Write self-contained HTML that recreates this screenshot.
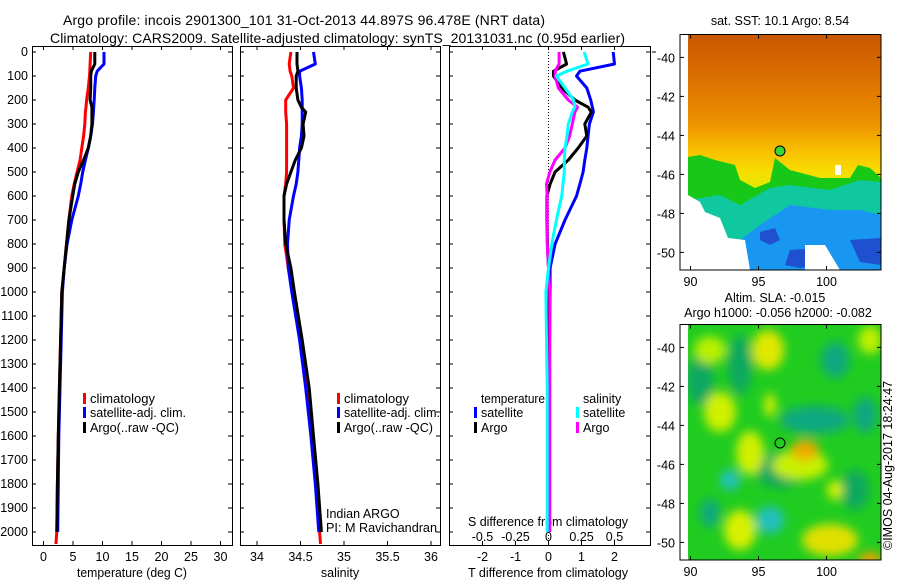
<!DOCTYPE html>
<html><head><meta charset="utf-8"><style>
body{margin:0;background:#fff}
svg{display:block;font-family:"Liberation Sans",sans-serif}
text{font-size:12.5px;fill:#000}
</style></head><body>
<svg id="chart" width="900" height="580" viewBox="0 0 900 580" xmlns="http://www.w3.org/2000/svg">
<defs>
<linearGradient id="sstg" x1="0" y1="0" x2="0" y2="1">
<stop offset="0" stop-color="#c85800"/><stop offset="0.25" stop-color="#de7400"/><stop offset="0.45" stop-color="#ee9400"/><stop offset="0.58" stop-color="#f8c000"/><stop offset="0.68" stop-color="#f8dc00"/><stop offset="0.8" stop-color="#d8f000"/><stop offset="1" stop-color="#d8f000"/>
</linearGradient>
<filter id="blur"><feGaussianBlur stdDeviation="5"/></filter>
<clipPath id="clipTop"><rect x="688" y="35" width="193" height="235"/></clipPath>
<clipPath id="clipBot"><rect x="688" y="325" width="193" height="235"/></clipPath>
</defs>
<text x="63" y="25" textLength="482" style="font-size:14px">Argo profile: incois 2901300_101 31-Oct-2013 44.897S 96.478E (NRT data)</text>
<text x="50" y="43" textLength="575" style="font-size:14px">Climatology: CARS2009. Satellite-adjusted climatology: synTS_20131031.nc (0.95d earlier)</text>
<g id="panels"></g>
<!-- top map -->
<g>
<text x="780" y="25" text-anchor="middle">sat. SST: 10.1  Argo: 8.54</text>
<g clip-path="url(#clipTop)">
<rect x="688" y="35" width="193" height="200" fill="url(#sstg)"/>
<polygon fill="#18c818" points="688,157 700,155 715,160 735,165 740,180 755,188 770,182 775,158 790,170 820,178 850,178 858,165 870,168 881,178 881,270 688,270"/>
<polygon fill="#10c8a0" points="688,200 720,195 740,205 770,188 790,185 830,190 860,180 881,182 881,270 688,270"/>
<polygon fill="#1896f0" points="740,240 760,225 790,205 830,210 860,210 881,215 881,270 740,270"/>
<polygon fill="#1e50d0" points="760,232 775,228 780,240 770,245 760,240"/>
<polygon fill="#1e50d0" points="790,250 820,248 830,262 800,268 785,265"/>
<polygon fill="#1e50d0" points="850,240 881,238 881,265 860,262"/>
<polygon fill="#fff" points="688,195 700,202 705,212 720,218 728,238 745,240 750,270 688,270"/>
<polygon fill="#fff" points="805,270 805,245 825,245 840,270"/>
<rect x="835" y="165" width="6" height="10" fill="#fff"/>
</g>
<rect x="680" y="34.5" width="201" height="235.5" fill="none" stroke="#000"/>
<circle cx="780" cy="151" r="5" fill="#38d838" stroke="#000"/>
</g>
<!-- bottom map -->
<g>
<text x="775" y="302" text-anchor="middle">Altim. SLA: -0.015</text>
<text x="778" y="317" text-anchor="middle">Argo h1000: -0.056 h2000: -0.082</text>
<g clip-path="url(#clipBot)">
<rect x="688" y="325" width="193" height="235" fill="#20cc20"/>
<g filter="url(#blur)">
<ellipse cx="700" cy="380" rx="14" ry="25" fill="#10a860"/>
<ellipse cx="740" cy="365" rx="12" ry="30" fill="#10a860"/>
<ellipse cx="835" cy="360" rx="14" ry="18" fill="#10a880"/>
<ellipse cx="815" cy="420" rx="35" ry="14" fill="#10a880"/>
<ellipse cx="865" cy="415" rx="12" ry="18" fill="#10a880"/>
<ellipse cx="780" cy="470" rx="25" ry="18" fill="#10a860"/>
<ellipse cx="730" cy="480" rx="10" ry="10" fill="#20c0c0"/>
<ellipse cx="770" cy="520" rx="14" ry="14" fill="#20c0c0"/>
<ellipse cx="710" cy="513" rx="10" ry="14" fill="#10a880"/>
<ellipse cx="855" cy="490" rx="14" ry="20" fill="#10a860"/>
<ellipse cx="768" cy="350" rx="16" ry="20" fill="#e0e800"/>
<ellipse cx="720" cy="412" rx="16" ry="20" fill="#d0f000"/>
<ellipse cx="750" cy="453" rx="14" ry="22" fill="#d0f000"/>
<ellipse cx="710" cy="350" rx="16" ry="14" fill="#b8f000"/>
<ellipse cx="800" cy="465" rx="28" ry="15" fill="#c8f000"/>
<ellipse cx="805" cy="450" rx="14" ry="10" fill="#f0a800"/>
<ellipse cx="740" cy="530" rx="16" ry="20" fill="#d8f000"/>
<ellipse cx="830" cy="540" rx="28" ry="16" fill="#e0e000"/>
<ellipse cx="870" cy="560" rx="12" ry="8" fill="#f0a000"/>
<ellipse cx="870" cy="340" rx="12" ry="14" fill="#c0f000"/>
<ellipse cx="770" cy="405" rx="6" ry="12" fill="#d0f000"/>
<ellipse cx="835" cy="490" rx="8" ry="10" fill="#d0f000"/>
</g>
</g>
<rect x="680" y="324.5" width="201" height="235.5" fill="none" stroke="#000"/>
<circle cx="780" cy="443" r="5" fill="none" stroke="#000"/>
<text transform="translate(892,550) rotate(-90)">©IMOS 04-Aug-2017 18:24:47</text>
</g>
<g id="mapaxes"></g>
</svg>
<script>
const depths=[0,50,80,100,150,200,230,250,300,350,400,450,500,550,600,700,800,900,1000,1200,1400,1600,1800,2000];
const climDepths=[0,50,80,100,150,200,230,250,300,350,400,450,500,550,600,700,800,900,1000,1200,1400,1600,1800,2000,2050];
const tempArgo=[8.7,8.7,8.1,8.0,8.0,7.9,8.2,8.2,8.2,8.0,7.6,6.8,5.9,5.3,4.95,4.3,3.9,3.5,3.1,2.9,2.7,2.5,2.35,2.25];
const tempClim=[8.0,7.9,7.85,7.8,7.6,7.3,7.2,7.1,7.0,6.8,6.5,6.2,5.7,5.2,4.8,4.3,3.9,3.5,3.1,2.9,2.7,2.5,2.35,2.25,2.1];
const tempSat=[10.25,10.25,9.1,8.85,8.7,8.6,8.5,8.45,8.3,8.0,7.6,7.1,6.65,6.3,5.9,4.8,4.0,3.5,3.2,3.0,2.8,2.6,2.5,2.4];
const salArgo=[34.46,34.46,34.47,34.45,34.45,34.47,34.51,34.56,34.53,34.54,34.51,34.44,34.39,34.34,34.31,34.31,34.33,34.39,34.43,34.52,34.60,34.65,34.70,34.74];
const salClim=[34.39,34.37,34.38,34.40,34.42,34.33,34.33,34.33,34.34,34.34,34.34,34.34,34.34,34.33,34.31,34.31,34.32,34.36,34.41,34.50,34.575,34.63,34.68,34.72,34.73];
const salSat=[34.65,34.67,34.49,34.49,34.51,34.52,34.52,34.52,34.52,34.51,34.49,34.48,34.47,34.45,34.42,34.37,34.35,34.36,34.40,34.49,34.56,34.62,34.67,34.71];
const tDiffSat=[1.96,2.0,0.95,0.85,1.16,1.28,1.33,1.36,1.24,1.2,1.16,1.1,1.05,0.95,0.85,0.5,0.2,0.05,0.05,0.03,0.03,0.03,0.03,0.03];
const tDiffArgo=[0.45,0.55,0.15,0.15,0.4,0.8,1.2,1.3,1.1,1.16,0.9,0.6,0.2,0.05,-0.05,-0.05,-0.03,0,0.02,0.01,0.01,0.01,0.01,0.01];
const sDiffArgo=[0.08,0.08,0.05,0.05,0.075,0.15,0.22,0.2,0.18,0.16,0.125,0.05,0.01,-0.015,-0.01,-0.01,-0.01,0,0.01,0.01,0.01,0.01,0.01,0.01];
const sDiffSat=[0.27,0.3,0.14,0.06,0.125,0.19,0.2,0.18,0.15,0.14,0.125,0.12,0.12,0.11,0.1,0.06,0.025,0,-0.02,-0.015,-0.01,-0.01,-0.01,-0.01];
const depthTicks=[0,100,200,300,400,500,600,700,800,900,1000,1100,1200,1300,1400,1500,1600,1700,1800,1900,2000];
const tempTicks=[0,5,10,15,20,25,30];
const salTicks=[34,34.5,35,35.5,36];
const tDiffTicks=[-2,-1,0,1,2];
const sDiffTicks=[-0.5,-0.25,0,0.25,0.5];
const lonTicks=[90,95,100];
const latTicks=[-40,-42,-44,-46,-48,-50];

const NS='http://www.w3.org/2000/svg';
const root=document.getElementById('panels');
function el(tag,attrs,parent,txt){const e=document.createElementNS(NS,tag);for(const k in attrs)e.setAttribute(k,attrs[k]);if(txt!==undefined)e.textContent=txt;(parent||root).appendChild(e);return e;}
const yD=d=>52+d*0.24;
const xT=t=>43.5+t*5.9;
const xS=s=>257+(s-34)*87;
const xTd=t=>548.5+t*33;
const xSd=s=>548.5+s*132;
const PT=46,PB=545;
const panels=[[32,232],[240,440],[449,650]];

panels.forEach((p,i)=>{
  const r=el('rect',{x:p[0]+0.5,y:PT+0.5,width:p[1]-p[0],height:PB-PT,fill:'none',stroke:'#000'});
  
  
  depthTicks.forEach(d=>{
    el('line',{x1:p[0],x2:p[0]+4,y1:yD(d),y2:yD(d),stroke:'#000'});
    el('line',{x1:p[1],x2:p[1]-4,y1:yD(d),y2:yD(d),stroke:'#000'});
  });
});
depthTicks.forEach(d=>{
  const t=el('text',{x:28,y:yD(d)+4,'text-anchor':'end'},root,String(d));
  
  
});
el('line',{x1:652,x2:656,y1:yD(0),y2:yD(0),stroke:'#000'});
function xticks(ticks,fx,ylab,labels,top){
  ticks.forEach(v=>{const x=fx(v);
    el('line',{x1:x,x2:x,y1:PB,y2:PB-4,stroke:'#000'});
    if(top)el('line',{x1:x,x2:x,y1:PT,y2:PT+4,stroke:'#000'});
    if(labels){const t=el('text',{x:x,y:ylab,'text-anchor':'middle'},root,String(v));
      
      }
  });
}
xticks(tempTicks,xT,561,true,true);
xticks(salTicks,xS,561,true,true);
xticks(tDiffTicks,xTd,561,true,true);
sDiffTicks.forEach(v=>{const t=el('text',{x:xSd(v),y:541,'text-anchor':'middle'},root,String(v));
  
  });
function title(x,y,s,n,w){const a={x:x,y:y,'text-anchor':'middle'};if(w){a.textLength=w;a.lengthAdjust='spacingAndGlyphs';}
  const t=el('text',a,root,s);
  
  }
title(132,577,'temperature (deg C)','x-axis-title-temperature',110);
title(340,577,'salinity','x-axis-title-salinity');
title(548,577,'T difference from climatology','x-axis-title-t-diff',160);
title(548,526,'S difference from climatology','s-diff-axis-title',160);
el('line',{x1:548.5,x2:548.5,y1:PT,y2:PB,stroke:'#000','stroke-dasharray':'1,2'});

function line(ds,vals,fx,col,name){
  const pts=vals.map((v,i)=>fx(v).toFixed(1)+','+yD(ds[i]).toFixed(1)).join(' ');
  const pl=el('polyline',{points:pts,fill:'none',stroke:col,'stroke-width':3,'stroke-linejoin':'round'});
  
  
}
line(climDepths,tempClim,xT,'#f00','temp-climatology-line');
line(depths,tempSat,xT,'#00f','temp-satellite-line');
line(depths,tempArgo,xT,'#000','temp-argo-line');
line(climDepths,salClim,xS,'#f00','sal-climatology-line');
line(depths,salSat,xS,'#00f','sal-satellite-line');
line(depths,salArgo,xS,'#000','sal-argo-line');
line(depths,tDiffSat,xTd,'#00f','tdiff-satellite-line');
line(depths,tDiffArgo,xTd,'#000','tdiff-argo-line');
line(depths,sDiffArgo,xSd,'#f0f','sdiff-argo-line');
line(depths,sDiffSat,xSd,'#0ff','sdiff-satellite-line');

function leg(x,y,col,txt,w){
  const g=el('g',{});
  
  
  if(col)el('rect',{x:x,y:y-10,width:3,height:11,fill:col},g);
  const a={x:x+7,y:y};if(w){a.textLength=w;a.lengthAdjust='spacingAndGlyphs';}
  el('text',a,g,txt);
}
[83,337].forEach(x=>{
  leg(x,403,'#f00','climatology',65);leg(x,417,'#00f','satellite-adj. clim.',96);leg(x,432,'#000','Argo(..raw -QC)',89);});
leg(474,403,null,'temperature',64);leg(474,417,'#00f','satellite');leg(474,432,'#000','Argo');
leg(576,403,null,'salinity');leg(576,417,'#0ff','satellite');leg(576,432,'#f0f','Argo');
const c1=el('text',{x:326,y:518},root,'Indian ARGO');


const c2=el('text',{x:326,y:532,textLength:111,lengthAdjust:'spacingAndGlyphs'},root,'PI: M Ravichandran');



// map axes
const ma=document.getElementById('mapaxes');
const xLon=l=>690.5+(l-90)*13.6;
[[34.5,270,57.4],[324.5,560,347.4]].forEach(m=>{
  const yLat=la=>m[2]+(-40-la)*19.5;
  lonTicks.forEach(l=>{
    el('line',{x1:xLon(l),x2:xLon(l),y1:m[1],y2:m[1]-4,stroke:'#000'},ma);
    el('line',{x1:xLon(l),x2:xLon(l),y1:m[0],y2:m[0]+4,stroke:'#000'},ma);
    const t=el('text',{x:xLon(l),y:m[1]+16,'text-anchor':'middle'},ma,String(l));
    
    
  });
  latTicks.forEach(la=>{
    el('line',{x1:680,x2:684,y1:yLat(la),y2:yLat(la),stroke:'#000'},ma);
    el('line',{x1:881,x2:877,y1:yLat(la),y2:yLat(la),stroke:'#000'},ma);
    const t=el('text',{x:675,y:yLat(la)+5,'text-anchor':'end'},ma,String(la));
    
    
  });
});
</script>
</body></html>
